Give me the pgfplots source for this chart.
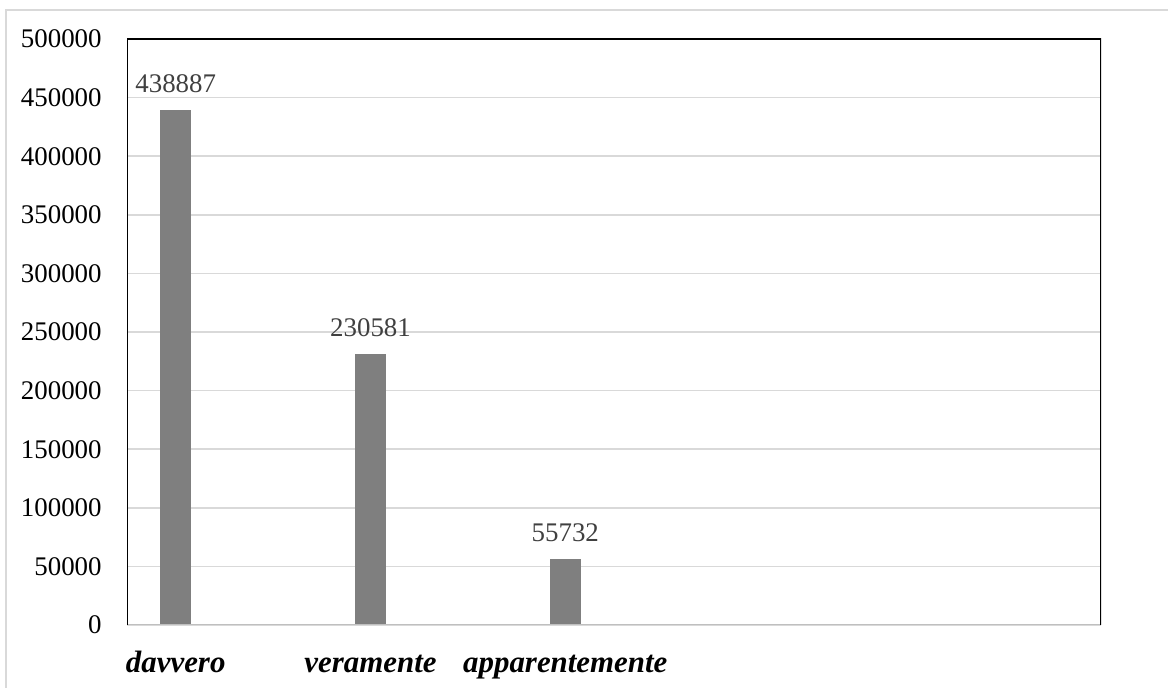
\documentclass[border=0pt]{standalone}
\usepackage{fontspec}
\setmainfont{Liberation Serif}
\usepackage{pgfplots}
\pgfplotsset{compat=1.18}
\definecolor{bargray}{HTML}{7F7F7F}
\definecolor{gridgray}{HTML}{D9D9D9}
\definecolor{labgray}{HTML}{404040}
\definecolor{botgray}{HTML}{BFBFBF}
\begin{document}
\begin{tikzpicture}
\useasboundingbox (0,0) rectangle (584bp,344bp);
\draw[gridgray, line width=0.9bp] (3bp,0) -- (3bp,339bp) -- (590bp,339bp);
\begin{axis}[
  at={(63.5bp,31.5bp)}, anchor=south west,
  scale only axis, width=487bp, height=293bp,
  xmin=0, xmax=5, ymin=0, ymax=500000,
  enlargelimits=false,
  axis line style={draw=none},
  ytick={0,50000,...,500000},
  xtick={0.25,1.25,2.25},
  xticklabels={davvero,veramente,apparentemente},
  major tick length=0pt,
  ymajorgrids, grid style={gridgray, line width=0.75bp},
  /pgf/number format/assume math mode=true,
  /pgf/number format/fixed, /pgf/number format/precision=0,
  /pgf/number format/1000 sep={},
  scaled y ticks=false,
  yticklabel style={font=\fontsize{13.5}{16}\selectfont, anchor=east, inner sep=0pt, xshift=-12.5bp},
  xticklabel style={font=\fontsize{15.5}{18}\selectfont\bfseries\itshape, anchor=base, inner sep=0pt, yshift=-23.5bp},
  ybar, bar width=15bp, bar shift=0pt,
  nodes near coords,
  every node near coord/.append style={font=\fontsize{13.5}{16}\selectfont, text=labgray, anchor=base, inner sep=0pt, yshift=9bp},
]
\addplot[fill=bargray, draw=bargray] coordinates {(0.25,438887) (1.25,230581) (2.25,55732)};
\draw[botgray, line width=1bp] (rel axis cs:0,0) -- (rel axis cs:1,0);
\draw[black, line width=1bp] (rel axis cs:0,0) -- (rel axis cs:0,1) -- (rel axis cs:1,1) -- (rel axis cs:1,0);
\end{axis}
\end{tikzpicture}
\end{document}
